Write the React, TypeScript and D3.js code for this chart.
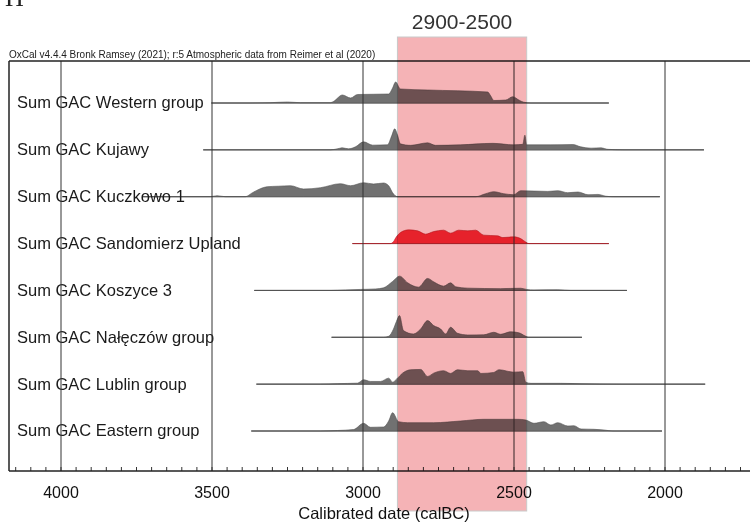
import * as d3 from 'd3'

const width = 750
const height = 522

const headerText = 'OxCal v4.4.4 Bronk Ramsey (2021); r:5 Atmospheric data from Reimer et al (2020)'
const axisTitle = 'Calibrated date (calBC)'
const highlightLabel = '2900-2500'
// calBC years covered by the shaded band, as drawn
const highlightRange = [2886, 2458]

const rowLabels = [
  'Sum GAC Western group',
  'Sum GAC Kujawy',
  'Sum GAC Kuczkowo 1',
  'Sum GAC Sandomierz Upland',
  'Sum GAC Koszyce 3',
  'Sum GAC Nałęczów group',
  'Sum GAC Lublin group',
  'Sum GAC Eastern group',
]

// [calBC, relative probability]
const westernGroup: [number, number][] = [
  [3502, 0], [3373, 0], [3307, 0.3], [3250, 1], [3207, 0.3], [3108, 0.3], [3098, 1.5], [3068, 8],
  [3041, 5], [3018, 8.5], [2915, 9], [2902, 15], [2892, 21], [2876, 14], [2786, 13], [2587, 11],
  [2577, 7], [2567, 2.5], [2527, 3], [2504, 6.3], [2484, 3], [2468, 0.8], [2444, 0], [2186, 0],
]
const kujawy: [number, number][] = [
  [3529, 0], [3108, 0], [3085, 1], [3068, 2], [3048, 1], [3025, 3], [2998, 8], [2968, 4.7],
  [2919, 5], [2905, 14], [2895, 21], [2886, 15], [2876, 6], [2842, 4.5], [2786, 7], [2760, 4.5],
  [2677, 5], [2570, 6.5], [2501, 5], [2471, 5.5], [2464, 14.7], [2458, 5], [2378, 5], [2305, 5.3],
  [2279, 3], [2245, 1.7], [2212, 2], [2189, 0.5], [2136, 0], [1871, 0],
]
const kuczkowo: [number, number][] = [
  [3731, 0], [3506, 0], [3483, 1], [3456, 0], [3390, 0], [3366, 4], [3340, 8], [3317, 10],
  [3280, 10.5], [3240, 11], [3197, 7.7], [3141, 9], [3075, 13], [3041, 11], [2998, 14], [2965, 12.7],
  [2932, 13.7], [2915, 11], [2902, 4], [2886, 0], [2627, 0], [2594, 3], [2567, 5], [2534, 3],
  [2501, 2], [2478, 6], [2388, 5.3], [2355, 6], [2322, 4], [2288, 4.7], [2255, 2], [2222, 2.3],
  [2196, 0.5], [2172, 0], [2017, 0],
]
const sandomierz: [number, number][] = [
  [3035, 0], [2909, 0], [2899, 2], [2889, 7], [2876, 11], [2849, 13.7], [2819, 12.7], [2793, 9.4],
  [2766, 12], [2733, 13.4], [2710, 10.4], [2683, 13.4], [2653, 12.7], [2627, 13.4], [2600, 8.4],
  [2554, 7.7], [2537, 6], [2501, 6.7], [2478, 5], [2461, 1.5], [2451, 0], [2186, 0],
]
const koszyce: [number, number][] = [
  [3360, 0], [3108, 0], [3058, 0.5], [3008, 1], [2958, 1.5], [2932, 2.6], [2902, 9], [2879, 14.3],
  [2852, 7.6], [2816, 3.3], [2786, 12], [2766, 8.6], [2733, 4.3], [2710, 7.6], [2693, 3.6],
  [2653, 2.3], [2544, 1.8], [2478, 2.2], [2458, 1], [2434, 0.5], [2355, 0.7], [2312, 0], [2126, 0],
]
const naleczow: [number, number][] = [
  [3104, 0], [2932, 0], [2915, 1], [2899, 8.3], [2889, 16], [2879, 21.7], [2866, 6.7], [2833, 3.3],
  [2810, 8], [2786, 16.7], [2766, 11.7], [2743, 8.3], [2726, 3.3], [2710, 10], [2687, 4],
  [2653, 2.3], [2600, 2.5], [2567, 5], [2544, 3], [2511, 5.5], [2484, 4.5], [2464, 1.5], [2451, 0],
  [2275, 0],
]
const lublin: [number, number][] = [
  [3353, 0], [3141, 0], [3085, 0.5], [3018, 1], [2998, 4.4], [2975, 2.7], [2942, 2.7], [2915, 6],
  [2902, 2], [2889, 5], [2869, 11], [2842, 14.4], [2809, 14.7], [2786, 7.7], [2766, 11], [2733, 13.4],
  [2710, 10.7], [2687, 14.4], [2653, 13.4], [2620, 13.4], [2610, 10.7], [2567, 11.7], [2550, 14.4],
  [2501, 12], [2471, 12.5], [2461, 2], [2444, 0.8], [2345, 0.8], [2278, 0.5], [2146, 0], [1867, 0],
]
const eastern: [number, number][] = [
  [3370, 0], [3141, 0], [3085, 0.5], [3031, 1.5], [2998, 7.7], [2975, 3.7], [2932, 4], [2915, 10],
  [2902, 18.3], [2882, 9.3], [2852, 8.3], [2766, 8.3], [2677, 10], [2600, 11.7], [2487, 11.7],
  [2461, 11], [2434, 7.7], [2401, 9.3], [2378, 6], [2355, 8.3], [2322, 5], [2302, 5.3], [2278, 2],
  [2235, 1.7], [2202, 1], [2172, 0], [2010, 0],
]

const series = [westernGroup, kujawy, kuczkowo, sandomierz, koszyce, naleczow, lublin, eastern]
const highlighted = ['Sum GAC Sandomierz Upland']

const majorTicks = [4000, 3500, 3000, 2500, 2000]
const minorTicks = d3.range(4150, 1700, -50)

const App = () => {
  const frame = { left: 9, top: 61, bottom: 471, right: width + 10 }

  const x = d3.scaleLinear().domain([4000, 2000]).range([61, 665])
  const y = d3.scalePoint<string>().domain(rowLabels).range([103, 431])
  const h = d3.scaleLinear().domain([0, 22]).range([0, 22])

  const sans = '"Liberation Sans", Arial, Helvetica, sans-serif'

  return (
    <svg width={width} height={height} style={{ position: 'absolute', left: 0, top: 0 }}>
      <rect width={width} height={height} fill="#fff" />

      {/* clipped serif letter left over from the page above */}
      <text x={5} y={6} fontFamily='"Liberation Serif", "DejaVu Serif", serif' fontSize={26} fill="#222">
        H
      </text>

      <text x={frame.left} y={58} fontFamily={sans} fontSize={10} fill="#222">
        {headerText}
      </text>

      {rowLabels.map((label, i) => {
        const base = y(label)!
        const data = series[i]
        const red = highlighted.includes(label)
        const area = d3.area<[number, number]>()
          .x(d => x(d[0]))
          .y0(base)
          .y1(d => base - h(d[1]))
          .curve(d3.curveMonotoneX)
        return (
          <g key={label}>
            <line
              x1={x(data[0][0])}
              x2={x(data[data.length - 1][0])}
              y1={base}
              y2={base}
              stroke="#555"
              strokeWidth={1}
            />
            <path
              d={area(data) ?? ''}
              fill={red ? '#f0303c' : '#717171'}
              stroke={red ? '#b81e26' : '#505050'}
              strokeWidth={0.6}
            />
            <text
              x={17}
              y={base}
              dy="0.33em"
              fontFamily={sans}
              fontSize={16.5}
              fill="#1a1a1a"
            >
              {label}
            </text>
          </g>
        )
      })}

      {majorTicks.map(t => (
        <line key={'g' + t} x1={x(t)} x2={x(t)} y1={frame.top} y2={frame.bottom} stroke="#333" strokeWidth={1} />
      ))}
      {minorTicks.map(t => (
        <line key={'m' + t} x1={x(t)} x2={x(t)} y1={frame.bottom} y2={frame.bottom - 4} stroke="#333" strokeWidth={1} />
      ))}

      <line x1={frame.left} x2={frame.right} y1={frame.top} y2={frame.top} stroke="#222" strokeWidth={1.5} />
      <line x1={frame.left} x2={frame.right} y1={frame.bottom} y2={frame.bottom} stroke="#222" strokeWidth={1.5} />
      <line x1={frame.left} x2={frame.left} y1={frame.top} y2={frame.bottom} stroke="#222" strokeWidth={1.5} />

      {majorTicks.map(t => (
        <text
          key={'l' + t}
          x={x(t)}
          y={492}
          dy="0.35em"
          textAnchor="middle"
          fontFamily={sans}
          fontSize={16}
          fill="#111"
        >
          {t}
        </text>
      ))}

      <text x={384} y={513} dy="0.35em" textAnchor="middle" fontFamily={sans} fontSize={16.5} fill="#111">
        {axisTitle}
      </text>

      <rect
        x={x(highlightRange[0])}
        y={37}
        width={x(highlightRange[1]) - x(highlightRange[0])}
        height={511 - 37}
        fill="#f5b3b6"
        stroke="#c9c9c9"
        strokeWidth={1}
        style={{ mixBlendMode: 'multiply' }}
      />
      <text
        x={(x(highlightRange[0]) + x(highlightRange[1])) / 2}
        y={22}
        dy="0.35em"
        textAnchor="middle"
        fontFamily={sans}
        fontSize={21}
        fill="#333"
      >
        {highlightLabel}
      </text>
    </svg>
  )
}

export default App
